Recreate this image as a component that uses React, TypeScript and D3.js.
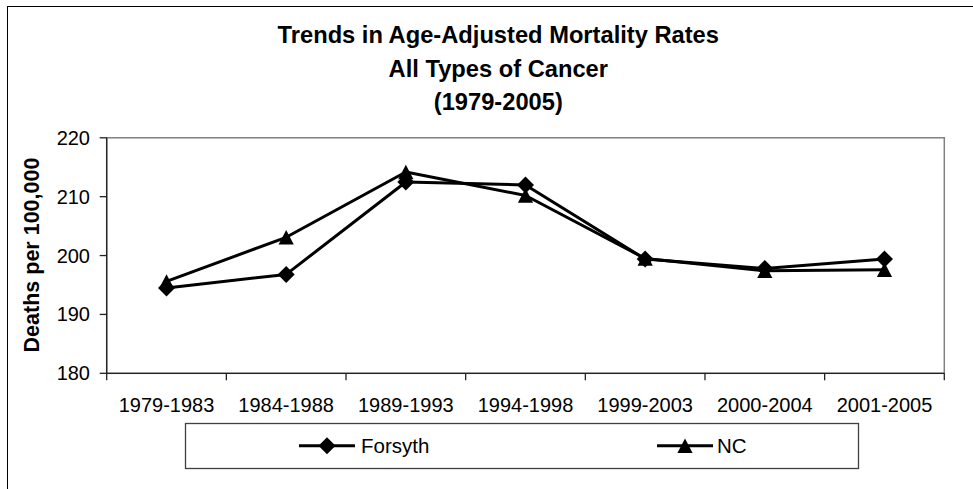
import React from 'react';
import * as d3 from 'd3';

const categories = ['1979-1983', '1984-1988', '1989-1993', '1994-1998', '1999-2003', '2000-2004', '2001-2005'];
const forsythValues = [194.5, 196.8, 212.5, 212.0, 199.4, 197.8, 199.4];
const ncValues = [195.6, 203.1, 214.2, 210.2, 199.5, 197.4, 197.6];
const yTicks = [180, 190, 200, 210, 220];
const titleLines = ['Trends in Age-Adjusted Mortality Rates', 'All Types of Cancer', '(1979-2005)'];

const WIDTH = 973;
const HEIGHT = 489;
const FONT = '"Liberation Sans", Arial, sans-serif';

// plot area edges
const plot = { left: 106.7, right: 944.3, top: 137.8, bottom: 373.3 };

// square diamond (rotated square), size = half diagonal
const diamond = {
  draw(ctx: any, size: number) {
    ctx.moveTo(0, -size);
    ctx.lineTo(size, 0);
    ctx.lineTo(0, size);
    ctx.lineTo(-size, 0);
    ctx.closePath();
  }
};

// upward triangle, size = half width
const triangle = {
  draw(ctx: any, size: number) {
    const h = size * 0.95;
    ctx.moveTo(0, -h);
    ctx.lineTo(size, h);
    ctx.lineTo(-size, h);
    ctx.closePath();
  }
};

export default function App() {
  const xScale = d3.scaleBand().domain(categories).range([plot.left, plot.right]);
  const xc = (c: string) => (xScale(c) || 0) + xScale.bandwidth() / 2;
  const yScale = d3.scaleLinear().domain([180, 220]).range([plot.bottom, plot.top]);

  const line = d3
    .line<number>()
    .x((_, i) => xc(categories[i]))
    .y(d => yScale(d));

  const diamondPath = d3.symbol(diamond as any, 8.5)() || '';
  const trianglePath = d3.symbol(triangle as any, 7.6)() || '';

  const series = [
    { name: 'Forsyth', values: forsythValues, marker: diamondPath, lx: 299, tx: 361 },
    { name: 'NC', values: ncValues, marker: trianglePath, lx: 657, tx: 717 }
  ];

  const boundaries = categories.map(c => xScale(c) || 0).concat([plot.right]);

  return (
    <svg
      width={WIDTH}
      height={HEIGHT}
      style={{ position: 'absolute', left: 0, top: 0, background: '#fff' }}
      fontFamily={FONT}
    >
      {/* outer chart border */}
      <rect x={7.5} y={6.5} width={1000} height={600} fill="#fff" stroke="#000" strokeWidth={1} />

      {/* title */}
      <g fontWeight="bold" fontSize={23.7} textAnchor="middle" fill="#000">
        {titleLines.map((t, i) => (
          <text key={i} x={498.3} y={43 + i * 33.5}>
            {t}
          </text>
        ))}
      </g>

      {/* plot area border */}
      <rect
        x={plot.left}
        y={plot.top}
        width={plot.right - plot.left}
        height={plot.bottom - plot.top}
        fill="#fff"
        stroke="#808080"
        strokeWidth={1.5}
      />

      {/* y axis */}
      <line x1={plot.left} x2={plot.left} y1={plot.top} y2={plot.bottom} stroke="#222" strokeWidth={1.3} />
      {yTicks.map(t => (
        <g key={t}>
          <line x1={plot.left - 7} x2={plot.left} y1={yScale(t)} y2={yScale(t)} stroke="#222" strokeWidth={1.3} />
          <text x={90} y={yScale(t)} dy="0.35em" textAnchor="end" fontSize={20} fill="#000">
            {t}
          </text>
        </g>
      ))}

      {/* x axis */}
      <line x1={plot.left} x2={plot.right} y1={plot.bottom} y2={plot.bottom} stroke="#222" strokeWidth={1.3} />
      {boundaries.map((b, i) => (
        <line key={i} x1={b} x2={b} y1={plot.bottom} y2={plot.bottom + 7} stroke="#222" strokeWidth={1.3} />
      ))}
      {categories.map(c => (
        <text key={c} x={xc(c)} y={411.5} textAnchor="middle" fontSize={20} fill="#000">
          {c}
        </text>
      ))}

      {/* y axis title */}
      <text
        transform="translate(38.5,255) rotate(-90)"
        textAnchor="middle"
        fontWeight="bold"
        fontSize={21.5}
        fill="#000"
      >
        Deaths per 100,000
      </text>

      {/* series */}
      {series.map(s => (
        <g key={s.name}>
          <path d={line(s.values) || ''} fill="none" stroke="#000" strokeWidth={3} strokeLinejoin="round" />
          {s.values.map((v, i) => (
            <path key={i} d={s.marker} transform={`translate(${xc(categories[i])},${yScale(v)})`} fill="#000" />
          ))}
        </g>
      ))}

      {/* legend */}
      <rect x={185.5} y={423.5} width={673} height={45} fill="#fff" stroke="#404040" strokeWidth={1.3} />
      {series.map(s => (
        <g key={s.name}>
          <line x1={s.lx} x2={s.lx + 56} y1={445.7} y2={445.7} stroke="#000" strokeWidth={3} />
          <path d={s.marker} transform={`translate(${s.lx + 28},445.7)`} fill="#000" />
          <text x={s.tx} y={445.7} dy="0.36em" fontSize={20.5} fill="#000">
            {s.name}
          </text>
        </g>
      ))}
    </svg>
  );
}
